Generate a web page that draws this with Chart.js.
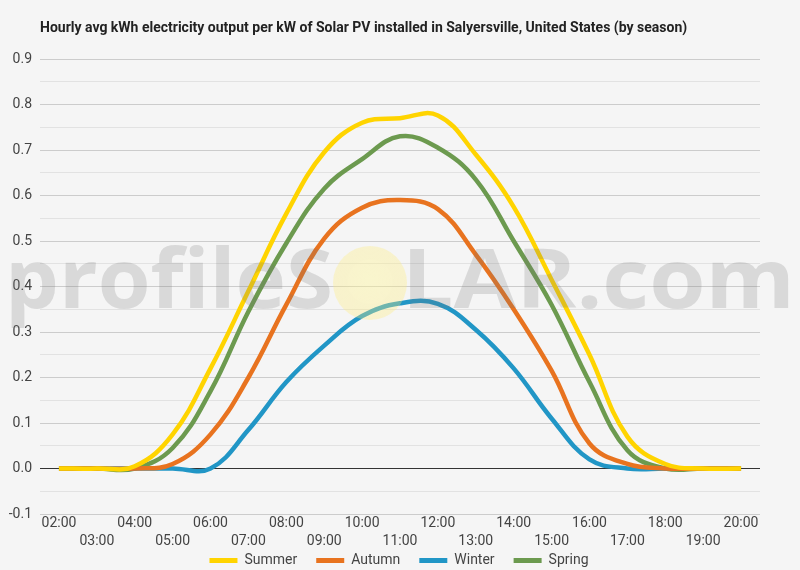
<!DOCTYPE html>
<html>
<head>
<meta charset="utf-8">
<script src="https://cdn.jsdelivr.net/npm/chart.js@4.4.1/dist/chart.umd.min.js"></script>
<style>
  html, body { margin: 0; padding: 0; background: #f5f5f5; }
  #wrap { width: 800px; height: 570px; position: relative; }
</style>
</head>
<body>
<div id="wrap"><canvas id="chart"></canvas></div>
<script>
// hourly avg kWh per kW installed
const hours = ['02:00', '03:00', '04:00', '05:00', '06:00', '07:00', '08:00', '09:00', '10:00', '11:00',
  '12:00', '13:00', '14:00', '15:00', '16:00', '17:00', '18:00', '19:00', '20:00'];
const summer = [0, 0, 0.005, 0.075, 0.22, 0.39, 0.56, 0.695, 0.76, 0.77, 0.776, 0.69, 0.575, 0.415, 0.25, 0.07, 0.01, 0, 0];
const autumn = [0, 0, 0, 0.01, 0.075, 0.2, 0.36, 0.505, 0.573, 0.59, 0.57, 0.47, 0.35, 0.215, 0.055, 0.01, 0, 0, 0];
const winter = [0, 0, 0, 0, 0, 0.085, 0.19, 0.27, 0.335, 0.363, 0.362, 0.305, 0.22, 0.11, 0.02, 0, 0, 0, 0];
const spring = [0, 0, 0, 0.045, 0.17, 0.345, 0.495, 0.615, 0.68, 0.73, 0.705, 0.635, 0.5, 0.36, 0.19, 0.04, 0, 0, 0];

const yMin = -0.1;
const yMax = 0.9;
const titleText = 'Hourly avg kWh electricity output per kW of Solar PV installed in Salyersville, United States (by season)';

const series = [
  { label: 'Summer', data: summer, color: '#ffd400' },
  { label: 'Autumn', data: autumn, color: '#e8731f' },
  { label: 'Winter', data: winter, color: '#2196c6' },
  { label: 'Spring', data: spring, color: '#6c9a4f' }
];

// alternate the hour labels over two rows like the original
const tickRows = hours.map((h, i) => (i % 2 === 0 ? [h] : ['', h]));

const titlePlugin = {
  id: 'topTitle',
  afterDraw(chart) {
    const ctx = chart.ctx;
    ctx.save();
    ctx.font = 'bold 14px Roboto';
    ctx.fillStyle = '#222';
    ctx.textBaseline = 'middle';
    ctx.fillText(titleText, 40, 28);
    ctx.restore();
  }
};

// legend overlaps the bottom of the axis box and is centred on the page, as in the original
const legendSqueeze = {
  id: 'legendSqueeze',
  beforeUpdate(chart) {
    const legend = chart.legend;
    if (!legend || legend._squeezed) return;
    const fit = legend.fit;
    legend.fit = function () {
      fit.call(this);
      this.height = 21;
    };
    legend._squeezed = true;
  },
  afterLayout(chart) {
    const legend = chart.legend;
    if (!legend) return;
    legend.top = 534.5;
    legend.bottom = chart.height;
    legend.height = legend.bottom - legend.top;
    legend.left = 19;
    legend.right = 779;
  }
};

const watermarkPlugin = {
  id: 'watermark',
  afterDatasetsDraw(chart) {
    const ctx = chart.ctx;
    ctx.save();
    ctx.font = 'bold 82px "Open Sans"';
    ctx.fillStyle = 'rgba(120,120,120,0.22)';
    ctx.textBaseline = 'alphabetic';

    const fitText = (text, x0, x1, base) => {
      const w = ctx.measureText(text).width;
      ctx.save();
      ctx.translate(x0, base);
      ctx.scale((x1 - x0) / w, 1);
      ctx.fillText(text, 0, 0);
      ctx.restore();
    };
    fitText('profileS', 5, 333, 308);
    fitText('LAR.com', 402, 795, 308);

    const g = ctx.createRadialGradient(370, 280, 4, 370, 283, 38);
    g.addColorStop(0, 'rgba(255,246,150,0.42)');
    g.addColorStop(1, 'rgba(255,236,120,0.32)');
    ctx.fillStyle = g;
    ctx.beginPath();
    ctx.arc(370, 283, 37, 0, Math.PI * 2);
    ctx.fill();
    ctx.restore();
  }
};

Chart.defaults.font.family = 'Roboto';
Chart.defaults.color = '#444';

new Chart(document.getElementById('chart'), {
  type: 'line',
  data: {
    labels: tickRows,
    datasets: series.map((s) => ({
      label: s.label,
      data: s.data,
      borderColor: s.color,
      backgroundColor: s.color,
      borderWidth: 4.5,
      pointRadius: 0,
      pointHoverRadius: 0,
      tension: 0.4,
      fill: false
    }))
  },
  options: {
    responsive: true,
    maintainAspectRatio: false,
    animation: false,
    layout: {
      padding: { top: 59, right: 40, left: 0, bottom: 0 }
    },
    plugins: {
      title: { display: false },
      tooltip: { enabled: false },
      legend: {
        position: 'bottom',
        labels: {
          boxWidth: 28,
          boxHeight: 5,
          padding: 19,
          font: { size: 14 },
          color: '#444',
          generateLabels(chart) {
            const items = Chart.defaults.plugins.legend.labels.generateLabels(chart);
            items.forEach((item) => {
              item.fillStyle = item.strokeStyle;
              item.lineWidth = 0;
            });
            return items;
          }
        }
      }
    },
    scales: {
      x: {
        offset: true,
        afterFit(scale) {
          scale.height = 35;
        },
        grid: { display: false, drawTicks: false },
        border: { display: false },
        ticks: {
          autoSkip: false,
          maxRotation: 0,
          minRotation: 0,
          padding: 0,
          color: '#444',
          font: { size: 14, lineHeight: 1.3 }
        }
      },
      y: {
        min: yMin,
        max: yMax,
        afterFit(scale) {
          scale.width = 40;
        },
        border: { display: false },
        grid: {
          drawTicks: false,
          lineWidth: 1,
          color(ctx) {
            const v = Math.round(ctx.tick.value * 100);
            if (v === 0) return '#333';
            return v % 10 === 0 ? '#cccccc' : '#e2e2e2';
          }
        },
        ticks: {
          stepSize: 0.05,
          padding: 8,
          color: '#444',
          font: { size: 14 },
          callback(value) {
            const v = Math.round(value * 100);
            return v % 10 === 0 ? (v / 100).toFixed(1) : '';
          }
        }
      }
    }
  },
  plugins: [titlePlugin, legendSqueeze, watermarkPlugin]
});
</script>
</body>
</html>
